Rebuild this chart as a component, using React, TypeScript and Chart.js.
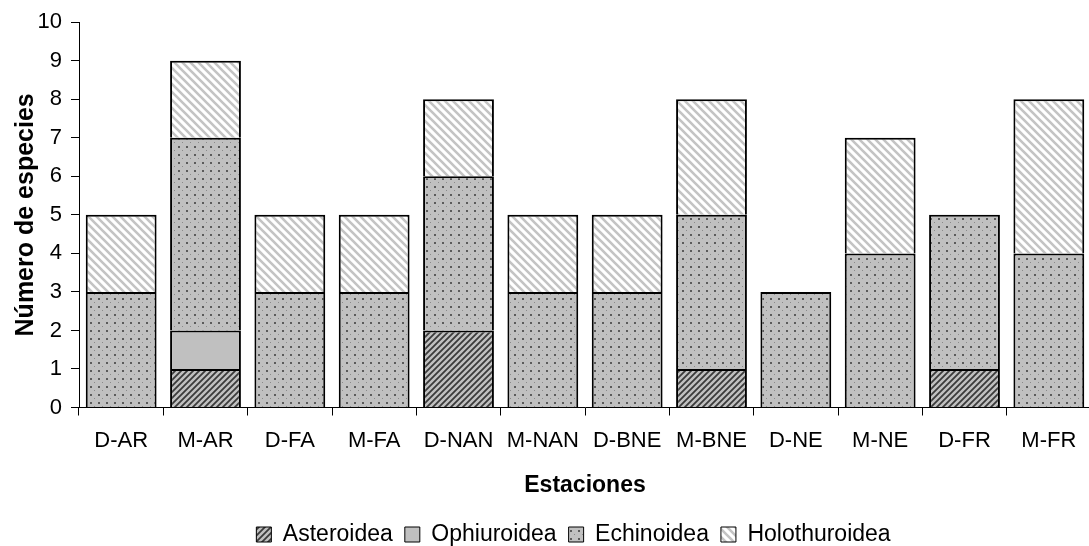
import React, { useEffect, useRef } from "react";
import { Chart, registerables } from "chart.js";

Chart.register(...registerables);

const categories = ["D-AR", "M-AR", "D-FA", "M-FA", "D-NAN", "M-NAN", "D-BNE", "M-BNE", "D-NE", "M-NE", "D-FR", "M-FR"];
const asteroidea = [0, 1, 0, 0, 2, 0, 0, 1, 0, 0, 1, 0];
const ophiuroidea = [0, 1, 0, 0, 0, 0, 0, 0, 0, 0, 0, 0];
const echinoidea = [3, 5, 3, 3, 4, 3, 3, 4, 3, 4, 4, 4];
const holothuroidea = [2, 2, 2, 2, 2, 2, 2, 3, 0, 3, 0, 4];
const seriesNames = ["Asteroidea", "Ophiuroidea", "Echinoidea", "Holothuroidea"];
const yMin = 0;
const yMax = 10;
const yStep = 1;

const FONT = "'Liberation Sans', Arial, sans-serif";

function makePattern(size: number, draw: (c: CanvasRenderingContext2D) => void): CanvasPattern | string {
  const cv = document.createElement("canvas");
  cv.width = size;
  cv.height = size;
  const c = cv.getContext("2d");
  if (!c) return "#c0c0c0";
  draw(c);
  const ctx = document.createElement("canvas").getContext("2d");
  return (ctx && ctx.createPattern(cv, "repeat")) || "#c0c0c0";
}

function hatchUp(c: CanvasRenderingContext2D) {
  c.fillStyle = "#c0c0c0";
  c.fillRect(0, 0, 6, 6);
  c.strokeStyle = "#3a3a3a";
  c.lineWidth = 1.8;
  c.beginPath();
  c.moveTo(-1, 1); c.lineTo(1, -1);
  c.moveTo(0, 6); c.lineTo(6, 0);
  c.moveTo(5, 7); c.lineTo(7, 5);
  c.stroke();
}

function dots(c: CanvasRenderingContext2D) {
  c.fillStyle = "#c0c0c0";
  c.fillRect(0, 0, 8, 8);
  c.fillStyle = "#5a5a5a";
  c.fillRect(2, 2, 2, 2);
  c.fillStyle = "#8a8a8a";
  c.fillRect(6, 6, 1, 1);
}

function hatchDown(c: CanvasRenderingContext2D) {
  c.fillStyle = "#ffffff";
  c.fillRect(0, 0, 8, 8);
  c.strokeStyle = "#c4c4c4";
  c.lineWidth = 2.6;
  c.beginPath();
  c.moveTo(-1, -1); c.lineTo(9, 9);
  c.moveTo(-1, 7); c.lineTo(1, 9);
  c.moveTo(7, -1); c.lineTo(9, 1);
  c.stroke();
}

const nz = (arr: number[]) => arr.map((v) => (v === 0 ? null : v));

const shiftLegend = {
  id: "shiftLegend",
  afterLayout(chart: any) {
    const l = chart.legend;
    if (l) {
      l.left += 28;
      l.right += 28;
    }
  },
};

export default function App() {
  const ref = useRef<HTMLCanvasElement | null>(null);

  useEffect(() => {
    if (!ref.current) return;
    const fills = [
      makePattern(6, hatchUp),
      "#c0c0c0",
      makePattern(8, dots),
      makePattern(8, hatchDown),
    ];
    const series = [asteroidea, ophiuroidea, echinoidea, holothuroidea];
    const chart = new Chart(ref.current, {
      type: "bar",
      data: {
        labels: categories,
        datasets: series.map((s, i) => ({
          label: seriesNames[i],
          data: nz(s),
          backgroundColor: fills[i] as any,
          borderColor: "#000000",
          borderWidth: 2,
          barPercentage: 0.84,
          categoryPercentage: 1,
        })),
      },
      plugins: [shiftLegend],
      options: {
        responsive: false,
        animation: false,
        layout: { padding: { top: 21.5, left: 0, right: 0, bottom: 0 } },
        font: { family: FONT },
        plugins: {
          tooltip: { enabled: false },
          legend: {
            position: "bottom",
            labels: {
              font: { family: FONT, size: 23 },
              color: "#000",
              boxWidth: 15,
              boxHeight: 15,
              padding: 12,
              generateLabels: (ch: any) => {
                const items = Chart.defaults.plugins.legend.labels.generateLabels(ch);
                return items.map((it: any) => ({ ...it, lineWidth: 1, strokeStyle: "#000" }));
              },
            },
          },
        },
        scales: {
          x: {
            stacked: true,
            offset: true,
            grid: {
              display: true,
              offset: true,
              drawOnChartArea: false,
              drawTicks: true,
              tickLength: 8,
              color: "#000",
            },
            border: { display: true, color: "#000", width: 1 },
            ticks: { font: { family: FONT, size: 22 }, color: "#000", padding: 12, maxRotation: 0, autoSkip: false },
            title: {
              display: true,
              text: "Estaciones",
              font: { family: FONT, size: 23, weight: "bold" },
              color: "#000",
              padding: { top: 0, bottom: 12 },
            },
            afterFit: (s: any) => { s.height = 103.5; },
          },
          y: {
            stacked: true,
            min: yMin,
            max: yMax,
            grid: {
              display: true,
              drawOnChartArea: false,
              drawTicks: true,
              tickLength: 8,
              color: "#000",
            },
            border: { display: true, color: "#000", width: 1 },
            ticks: { stepSize: yStep, font: { family: FONT, size: 22 }, color: "#000", padding: 9 },
            title: {
              display: true,
              text: "Número de especies",
              font: { family: FONT, size: 25, weight: "bold" },
              color: "#000",
              padding: { top: 11, bottom: 0 },
            },
            afterFit: (s: any) => { s.width = 79; },
          },
        },
      },
    });
    return () => chart.destroy();
  }, []);

  return (
    <div style={{ position: "absolute", left: 0, top: 0, width: 1089, height: 546, overflow: "hidden", background: "#fff" }}>
      <canvas ref={ref} width={1091} height={556} style={{ display: "block" }} />
    </div>
  );
}
